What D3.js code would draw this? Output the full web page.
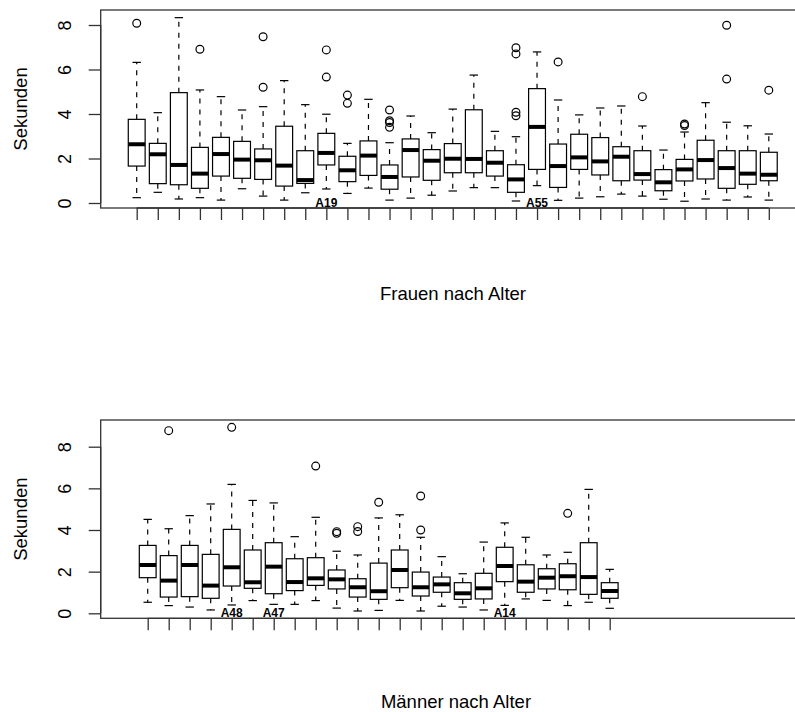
<!DOCTYPE html>
<html>
<head>
<meta charset="utf-8">
<script src="https://cdn.jsdelivr.net/npm/d3@7"></script>
<style>
  html, body { margin: 0; padding: 0; background: #fff; }
  svg { display: block; }
</style>
</head>
<body>
<script>
// ---- Frauen: Reaktionszeiten (Sekunden) je Altersgruppe ----
const frauenLow  = [0.24,0.48,0.18,0.24,0.13,0.64,0.31,0.13,0.46,0.63,0.43,0.67,0.13,0.22,0.35,0.54,0.69,0.69,0.09,0.78,0.12,0.22,0.28,0.40,0.31,0.17,0.08,0.18,0.13,0.27,0.13];
const frauenQ1   = [1.66,0.87,0.82,0.66,1.21,1.11,1.06,0.76,0.88,1.71,0.96,1.24,0.62,1.17,1.02,1.36,1.36,1.21,0.48,1.51,0.70,1.51,1.26,1.00,1.03,0.55,0.99,1.08,0.66,0.84,1.00];
const frauenMed  = [2.64,2.19,1.71,1.32,2.20,1.95,1.92,1.68,1.03,2.25,1.47,2.13,1.17,2.38,1.90,1.99,1.98,1.81,1.06,3.42,1.66,2.05,1.87,2.08,1.30,0.93,1.51,1.93,1.57,1.32,1.27];
const frauenQ3   = [3.76,2.68,4.96,2.50,2.95,2.77,2.43,3.45,2.35,3.13,2.10,2.79,1.71,2.88,2.40,2.67,4.19,2.35,1.72,5.14,2.65,3.09,2.94,2.53,2.35,1.50,1.96,2.82,2.35,2.35,2.28];
const frauenHigh = [6.32,4.06,8.33,5.08,4.78,4.18,4.33,5.50,4.42,3.99,2.68,4.66,2.71,3.91,3.16,4.22,5.75,3.22,2.98,6.79,4.63,3.96,4.27,4.36,3.46,2.38,3.19,4.51,3.63,3.47,3.10];
const frauenOut  = [[8.08],[],[],[6.91],[],[],[7.47,5.20],[],[],[6.88,5.66],[4.85,4.48],[],[4.18,3.70,3.62,3.40],[],[],[],[],[],[6.98,6.70,4.08,3.92],[],[6.34],[],[],[],[4.78],[],[3.55,3.48],[],[7.99,5.57],[],[5.07]];
const frauenMarkNames = ["A19","A55"];
const frauenMarkAt    = [10, 20];

// ---- Männer ----
const maennerLow  = [0.53,0.37,0.30,0.16,0.40,0.61,0.43,0.43,0.61,0.25,0.11,0.14,0.62,0.11,0.34,0.30,0.16,0.38,0.69,0.62,0.37,0.53,0.24];
const maennerQ1   = [1.71,0.78,0.80,0.72,1.31,1.20,0.94,1.09,1.34,1.17,0.78,0.67,1.23,0.83,1.01,0.67,0.69,1.52,1.01,1.17,1.13,0.91,0.72];
const maennerMed  = [2.32,1.57,2.32,1.33,2.21,1.49,2.24,1.50,1.68,1.63,1.25,1.06,2.08,1.25,1.39,0.96,1.20,2.27,1.52,1.71,1.78,1.74,1.07];
const maennerQ3   = [3.26,2.77,3.26,2.83,4.03,3.04,3.39,2.62,2.67,2.08,1.66,2.41,3.04,1.98,1.74,1.47,1.92,3.17,2.33,2.14,2.38,3.39,1.47];
const maennerHigh = [4.51,4.06,4.69,5.25,6.19,5.42,5.30,3.68,4.61,2.98,2.80,4.58,4.73,3.65,2.72,1.90,3.42,4.34,3.65,2.80,2.93,5.95,2.11];
const maennerOut  = [[],[8.77],[],[],[8.93],[],[],[],[7.07],[3.92,3.84],[4.16,3.93],[5.33],[],[5.63,4.00],[],[],[],[],[],[],[4.80],[],[]];
const maennerMarkNames = ["A48","A47","A14"];
const maennerMarkAt    = [5, 7, 18];

const yTicks = [0, 2, 4, 6, 8];

const W = 795, H = 712;
const FONT = "'Liberation Sans', Arial, Helvetica, sans-serif";

const svg = d3.select("body").append("svg")
  .attr("width", W).attr("height", H)
  .attr("viewBox", `0 0 ${W} ${H}`);

function buildBoxes(low, q1, med, q3, high, out) {
  return low.map((_, i) => ({
    idx: i + 1, low: low[i], q1: q1[i], med: med[i], q3: q3[i], high: high[i], out: out[i]
  }));
}

function drawPanel(opt) {
  const g = svg.append("g");
  const n = opt.boxes.length;

  const x = d3.scaleLinear().domain([1, n]).range([opt.firstX, opt.firstX + (n - 1) * opt.step]);
  const y = d3.scaleLinear().domain([0, 8]).range([opt.y0, opt.y8]);

  const boxW = 0.8 * opt.step;
  const stapleW = 0.5 * boxW;

  const boxG = g.selectAll("g.box").data(opt.boxes).join("g").attr("class", "box");

  // dashed whiskers
  boxG.append("line")
    .attr("x1", d => x(d.idx)).attr("x2", d => x(d.idx))
    .attr("y1", d => y(d.q3)).attr("y2", d => y(d.high))
    .attr("stroke", "#000").attr("stroke-width", 1.2).attr("stroke-dasharray", "5,6");
  boxG.append("line")
    .attr("x1", d => x(d.idx)).attr("x2", d => x(d.idx))
    .attr("y1", d => y(d.q1)).attr("y2", d => y(d.low))
    .attr("stroke", "#000").attr("stroke-width", 1.2).attr("stroke-dasharray", "5,6");

  // staples
  boxG.append("line")
    .attr("x1", d => x(d.idx) - stapleW / 2).attr("x2", d => x(d.idx) + stapleW / 2)
    .attr("y1", d => y(d.high)).attr("y2", d => y(d.high))
    .attr("stroke", "#000").attr("stroke-width", 1.2);
  boxG.append("line")
    .attr("x1", d => x(d.idx) - stapleW / 2).attr("x2", d => x(d.idx) + stapleW / 2)
    .attr("y1", d => y(d.low)).attr("y2", d => y(d.low))
    .attr("stroke", "#000").attr("stroke-width", 1.2);

  // box
  boxG.append("rect")
    .attr("x", d => x(d.idx) - boxW / 2).attr("width", boxW)
    .attr("y", d => y(d.q3)).attr("height", d => y(d.q1) - y(d.q3))
    .attr("fill", "#fff").attr("stroke", "#000").attr("stroke-width", 1.2);

  // median
  boxG.append("line")
    .attr("x1", d => x(d.idx) - boxW / 2).attr("x2", d => x(d.idx) + boxW / 2)
    .attr("y1", d => y(d.med)).attr("y2", d => y(d.med))
    .attr("stroke", "#000").attr("stroke-width", 4);

  // outliers
  boxG.selectAll("circle").data(d => d.out.map(v => ({ idx: d.idx, v })))
    .join("circle")
    .attr("cx", d => x(d.idx)).attr("cy", d => y(d.v)).attr("r", 3.9)
    .attr("fill", "none").attr("stroke", "#000").attr("stroke-width", 1.2);

  // plot frame (runs past the right edge)
  g.append("rect")
    .attr("x", opt.left).attr("y", opt.top)
    .attr("width", opt.right - opt.left).attr("height", opt.bottom - opt.top)
    .attr("fill", "none").attr("stroke", "#333").attr("stroke-width", 1.3);

  // y axis
  const yAxis = d3.axisLeft(y).tickValues(yTicks).tickSize(12).tickPadding(0).tickFormat(d3.format("d"));
  const ya = g.append("g").attr("transform", `translate(${opt.left},0)`).call(yAxis);
  ya.select(".domain").attr("stroke", "#333").attr("stroke-width", 1.3).attr("d", `M0,${y(0)}V${y(8)}`);
  ya.selectAll(".tick line").attr("stroke", "#333").attr("stroke-width", 1.3);
  ya.selectAll(".tick text")
    .attr("x", 0).attr("y", 0).attr("dy", null)
    .attr("transform", `translate(${opt.tickLabelX - opt.left},0) rotate(-90)`)
    .attr("text-anchor", "middle").attr("dominant-baseline", "central")
    .attr("font-family", FONT).attr("font-size", 18).attr("fill", "#000");

  // x axis: unlabeled ticks at every box
  const xAxis = d3.axisBottom(x).tickValues(d3.range(1, n + 1)).tickSize(12).tickFormat("");
  const xa = g.append("g").attr("transform", `translate(0,${opt.bottom})`).call(xAxis);
  xa.select(".domain").attr("stroke", "#333").attr("stroke-width", 1.3).attr("d", `M${x(1)},0H${x(n)}`);
  xa.selectAll(".tick line").attr("stroke", "#333").attr("stroke-width", 1.3);

  // group names written at the base
  g.selectAll("text.mark").data(opt.markNames.map((name, i) => ({ name, at: opt.markAt[i] })))
    .join("text").attr("class", "mark")
    .attr("x", d => x(d.at)).attr("y", y(0))
    .attr("text-anchor", "middle").attr("dominant-baseline", "central")
    .attr("font-family", FONT).attr("font-weight", "bold").attr("font-size", 12)
    .text(d => d.name);

  // axis titles
  g.append("text")
    .attr("transform", `translate(${opt.ylabX},${(opt.top + opt.bottom) / 2}) rotate(-90)`)
    .attr("text-anchor", "middle").attr("dominant-baseline", "central")
    .attr("font-family", FONT).attr("font-size", 18.5)
    .text("Sekunden");
  g.append("text")
    .attr("x", opt.xlabX).attr("y", opt.xlabY)
    .attr("text-anchor", "middle").attr("dominant-baseline", "central")
    .attr("font-family", FONT).attr("font-size", 18.5)
    .text(opt.title);
}

drawPanel({
  boxes: buildBoxes(frauenLow, frauenQ1, frauenMed, frauenQ3, frauenHigh, frauenOut),
  markNames: frauenMarkNames, markAt: frauenMarkAt,
  firstX: 136.7, step: 21.07,
  y0: 203, y8: 25,
  left: 100.7, right: 806, top: 10, bottom: 208,
  tickLabelX: 65, ylabX: 20, xlabX: 453, xlabY: 293,
  title: "Frauen nach Alter"
});

drawPanel({
  boxes: buildBoxes(maennerLow, maennerQ1, maennerMed, maennerQ3, maennerHigh, maennerOut),
  markNames: maennerMarkNames, markAt: maennerMarkAt,
  firstX: 147.7, step: 21.0,
  y0: 613.3, y8: 446.7,
  left: 100.7, right: 806, top: 420, bottom: 618.3,
  tickLabelX: 65, ylabX: 20, xlabX: 456, xlabY: 701,
  title: "Männer nach Alter"
});
</script>
</body>
</html>
